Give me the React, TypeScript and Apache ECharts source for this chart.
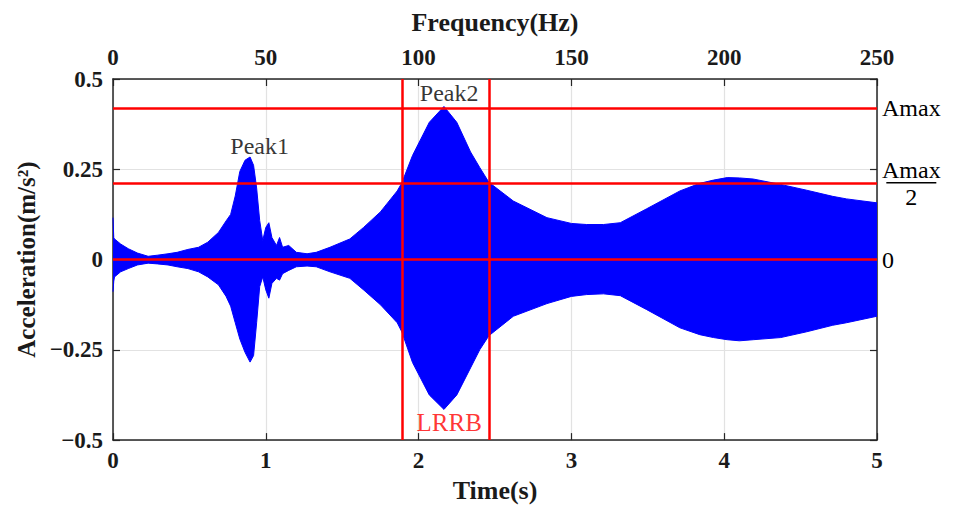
import React, { useEffect, useRef } from 'react';
import * as echarts from 'echarts';

// Time axis (s) and envelope of the acceleration signal (m/s^2)
const timeS = [
  0, 0.005, 0.01, 0.05, 0.1, 0.16, 0.23, 0.29, 0.36, 0.42, 0.49, 0.56, 0.62, 0.69, 0.74, 0.77,
  0.8, 0.83, 0.864, 0.897, 0.92, 0.94, 0.96, 0.98, 1.0, 1.02, 1.04, 1.07, 1.09, 1.11, 1.15, 1.2,
  1.27, 1.33, 1.42, 1.55, 1.64, 1.75, 1.86, 1.89, 1.96, 2.07, 2.166, 2.25, 2.34, 2.4, 2.46, 2.62,
  2.84, 3.0, 3.1, 3.21, 3.32, 3.49, 3.71, 3.84, 3.93, 4.02, 4.1, 4.19, 4.37, 4.54, 4.71, 4.8, 5.0,
];
const upperEnv = [
  0.116, 0.06, 0.057, 0.043, 0.03, 0.018, 0.009, 0.012, 0.016, 0.02, 0.028, 0.034, 0.048, 0.075, 0.107, 0.125,
  0.176, 0.244, 0.275, 0.284, 0.261, 0.198, 0.108, 0.053, 0.089, 0.102, 0.061, 0.039, 0.061, 0.034, 0.039, 0.02,
  0.016, 0.02, 0.034, 0.057, 0.089, 0.132, 0.19, 0.212, 0.288, 0.38, 0.424, 0.38, 0.298, 0.255, 0.214, 0.162,
  0.116, 0.1, 0.097, 0.097, 0.102, 0.14, 0.19, 0.211, 0.22, 0.227, 0.226, 0.223, 0.208, 0.192, 0.175, 0.168, 0.157,
];
const lowerEnv = [
  -0.089, -0.06, -0.048, -0.034, -0.025, -0.015, -0.01, -0.012, -0.015, -0.02, -0.025, -0.034, -0.048, -0.07, -0.102, -0.129,
  -0.175, -0.22, -0.257, -0.284, -0.266, -0.175, -0.075, -0.048, -0.084, -0.107, -0.066, -0.052, -0.057, -0.039, -0.03, -0.02,
  -0.018, -0.02, -0.034, -0.052, -0.084, -0.125, -0.175, -0.2, -0.285, -0.375, -0.415, -0.375, -0.3, -0.25, -0.211, -0.157,
  -0.122, -0.102, -0.097, -0.095, -0.1, -0.138, -0.189, -0.208, -0.216, -0.222, -0.225, -0.222, -0.216, -0.2, -0.182, -0.175, -0.157,
];

const AMAX = 0.424;
const lrrbBounds = [1.893, 2.463];
const peakNames = ['Peak1', 'Peak2'];
const peakPos = [
  [0.96, 0.315],
  [2.2, 0.462],
];
const lrrbLabelPos = [2.2, -0.45];

const SERIF = '"Liberation Serif", "Times New Roman", serif';
const AXIS_COLOR = '#262626';

const fmtY = (v: number) => (v === 0 ? '0' : v < 0 ? '\u2212' + Math.abs(v) : String(v));

export default function App() {
  const ref = useRef<HTMLDivElement>(null);
  useEffect(() => {
    if (!ref.current) return;
    const chart = echarts.init(ref.current, undefined, { renderer: 'svg' });
    const upperData = timeS.map((t, i) => [t, upperEnv[i]]);
    const lowerData = timeS.map((t, i) => [t, lowerEnv[i]]);
    const labelText = { fontFamily: SERIF, fontSize: 24, color: '#000' };
    const option: any = {
      animation: false,
      backgroundColor: '#fff',
      grid: { left: 113, top: 79, width: 764, height: 367, containLabel: false },
      xAxis: [
        {
          type: 'value',
          position: 'bottom',
          min: 0,
          max: 5,
          interval: 1,
          name: 'Time(s)',
          nameLocation: 'middle',
          nameGap: 34,
          nameTextStyle: { fontFamily: SERIF, fontSize: 26, fontWeight: 'bold', color: '#1a1a1a' },
          axisLine: { show: true, onZero: false, lineStyle: { color: AXIS_COLOR, width: 1.5 } },
          axisTick: { show: true, inside: true, length: 7, lineStyle: { color: AXIS_COLOR, width: 1.2 } },
          axisLabel: { fontFamily: SERIF, fontSize: 23, fontWeight: 'bold', color: '#1a1a1a', margin: 9 },
          splitLine: { show: true, lineStyle: { color: '#e2e2e2', width: 1.2 } },
        },
        {
          type: 'value',
          position: 'top',
          min: 0,
          max: 250,
          interval: 50,
          name: 'Frequency(Hz)',
          nameLocation: 'middle',
          nameGap: 44,
          nameTextStyle: { fontFamily: SERIF, fontSize: 26, fontWeight: 'bold', color: '#1a1a1a' },
          axisLine: { show: true, onZero: false, lineStyle: { color: AXIS_COLOR, width: 1.5 } },
          axisTick: { show: true, inside: true, length: 7, lineStyle: { color: AXIS_COLOR, width: 1.2 } },
          axisLabel: { fontFamily: SERIF, fontSize: 23, fontWeight: 'bold', color: '#1a1a1a', margin: 10 },
          splitLine: { show: false },
        },
      ],
      yAxis: [
        {
          type: 'value',
          position: 'left',
          min: -0.5,
          max: 0.5,
          interval: 0.25,
          name: 'Acceleration(m/s\u00b2)',
          nameLocation: 'middle',
          nameGap: 66,
          nameRotate: 90,
          nameTextStyle: { fontFamily: SERIF, fontSize: 25, fontWeight: 'bold', color: '#1a1a1a' },
          axisLine: { show: true, onZero: false, lineStyle: { color: AXIS_COLOR, width: 1.5 } },
          axisTick: { show: true, inside: true, length: 7, lineStyle: { color: AXIS_COLOR, width: 1.2 } },
          axisLabel: { fontFamily: SERIF, fontSize: 23, fontWeight: 'bold', color: '#1a1a1a', margin: 10, formatter: fmtY },
          splitLine: { show: true, lineStyle: { color: '#e2e2e2', width: 1.2 } },
        },
        {
          type: 'value',
          position: 'right',
          min: -0.5,
          max: 0.5,
          interval: 0.25,
          axisLine: { show: true, onZero: false, lineStyle: { color: AXIS_COLOR, width: 1.5 } },
          axisTick: { show: true, inside: true, length: 7, lineStyle: { color: AXIS_COLOR, width: 1.2 } },
          axisLabel: { show: false },
          splitLine: { show: false },
        },
      ],
      series: [
        {
          type: 'line',
          xAxisIndex: 0,
          yAxisIndex: 0,
          data: upperData,
          showSymbol: false,
          symbol: 'none',
          silent: true,
          lineStyle: { color: '#0000ff', width: 1 },
          areaStyle: { color: '#0000ff', opacity: 1 },
          z: 2,
        },
        {
          type: 'line',
          xAxisIndex: 0,
          yAxisIndex: 0,
          data: lowerData,
          showSymbol: false,
          symbol: 'none',
          silent: true,
          lineStyle: { color: '#0000ff', width: 1 },
          areaStyle: { color: '#0000ff', opacity: 1 },
          z: 2,
          markLine: {
            silent: true,
            symbol: ['none', 'none'],
            lineStyle: { color: '#ff0000', width: 2.5, type: 'solid' },
            label: { show: true, position: 'end', distance: 5, ...labelText },
            data: [
              { yAxis: AMAX, label: { formatter: 'Amax' } },
              {
                yAxis: AMAX / 2,
                label: {
                  formatter: '{n|Amax}\n{bar|}\n{d|2}',
                  rich: {
                    n: { ...labelText, lineHeight: 22, align: 'center' },
                    bar: { width: 50, height: 1.5, lineHeight: 4, backgroundColor: '#000', align: 'center' },
                    d: { ...labelText, lineHeight: 24, align: 'center' },
                  },
                },
              },
              { yAxis: 0, label: { formatter: '0' } },
              { xAxis: lrrbBounds[0], label: { show: false } },
              { xAxis: lrrbBounds[1], label: { show: false } },
            ],
          },
        },
        {
          type: 'scatter',
          xAxisIndex: 0,
          yAxisIndex: 0,
          symbolSize: 1,
          silent: true,
          itemStyle: { color: 'rgba(0,0,0,0)' },
          data: peakPos.map((p, i) => ({ value: p, name: peakNames[i] })),
          label: { show: true, position: 'inside', formatter: (p: any) => p.name, ...labelText },
          z: 6,
        },
        {
          type: 'scatter',
          xAxisIndex: 0,
          yAxisIndex: 0,
          symbolSize: 1,
          silent: true,
          itemStyle: { color: 'rgba(0,0,0,0)' },
          data: [{ value: lrrbLabelPos, name: 'LRRB' }],
          label: { show: true, position: 'inside', formatter: (p: any) => p.name, ...labelText, fontSize: 25, color: '#ff0000' },
          z: 6,
        },
      ],
    };
    chart.setOption(option);
    return () => chart.dispose();
  }, []);
  return (
    <div
      ref={ref}
      style={{ position: 'fixed', left: 0, top: 0, width: 955, height: 508, background: '#fff' }}
    />
  );
}
